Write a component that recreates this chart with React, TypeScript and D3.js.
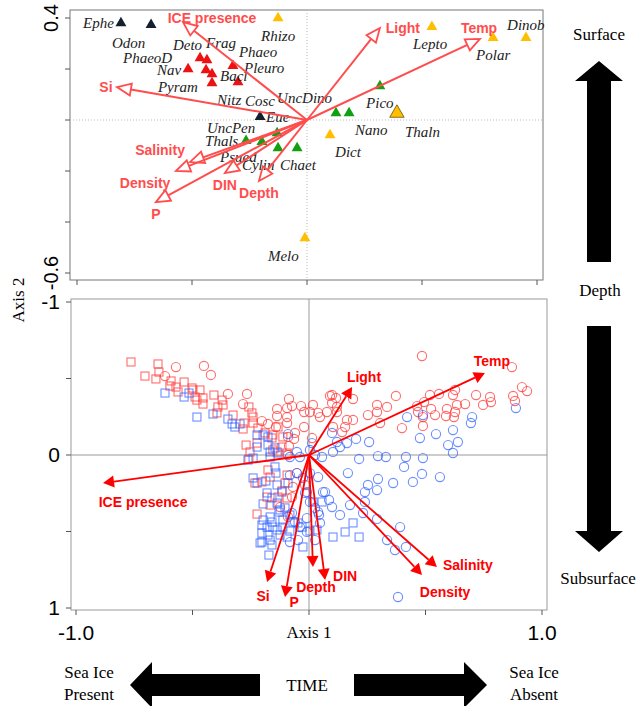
import React from 'react';
import * as d3 from 'd3';

// ---------- top panel: species scores (triangles) ----------
// [name, group, axis1, axis2]
const speciesPts: [string, string, number, number][] = [
  ['Ephe', 'ice', -0.809, 0.380],
  ['Odon', 'ice', -0.678, 0.373],
  ['Eue', 'ice', -0.204, 0.012],
  ['Deto', 'diatom', -0.465, 0.243],
  ['Frag', 'diatom', -0.435, 0.235],
  ['Nav', 'diatom', -0.517, 0.200],
  ['PhaeoD', 'diatom', -0.439, 0.196],
  ['Bacl', 'diatom', -0.413, 0.180],
  ['Pyram', 'diatom', -0.413, 0.145],
  ['Phaeo', 'diatom', -0.322, 0.212],
  ['Pleuro', 'diatom', -0.300, 0.149],
  ['Rhizo', 'warm', -0.126, 0.400],
  ['Lepto', 'warm', 0.543, 0.365],
  ['Polar', 'warm', 0.809, 0.322],
  ['Dinob', 'warm', 0.952, 0.322],
  ['Thaln', 'warm', 0.391, 0.027],
  ['Dict', 'warm', 0.100, -0.059],
  ['Melo', 'warm', -0.009, -0.463],
  ['Pico', 'mixed', 0.317, 0.133],
  ['UncDino', 'mixed', 0.126, 0.027],
  ['Nano', 'mixed', 0.183, 0.027],
  ['UncPen', 'mixed', -0.130, -0.051],
  ['Thals', 'mixed', -0.265, -0.082],
  ['Psued', 'mixed', -0.196, -0.086],
  ['Cylin', 'mixed', -0.126, -0.110],
  ['Chaet', 'mixed', -0.043, -0.110],
];

// label anchors (left edge, middle) in axis units
const speciesLabels: [string, number, number][] = [
  ['Ephe', -0.974, 0.380], ['Odon', -0.848, 0.302], ['PhaeoD', -0.800, 0.243],
  ['Deto', -0.583, 0.294], ['Frag', -0.439, 0.302], ['Phaeo', -0.296, 0.267],
  ['Pleuro', -0.274, 0.204], ['Nav', -0.652, 0.196], ['Bacl', -0.378, 0.173],
  ['Pyram', -0.648, 0.129], ['Nitz', -0.391, 0.078], ['Cosc', -0.270, 0.075],
  ['UncDino', -0.130, 0.086], ['Eue', -0.178, 0.012], ['Rhizo', -0.200, 0.329],
  ['Lepto', 0.461, 0.298], ['Polar', 0.735, 0.255], ['Dinob', 0.870, 0.373],
  ['Pico', 0.257, 0.067], ['Nano', 0.209, -0.039], ['Thaln', 0.426, -0.047],
  ['Dict', 0.122, -0.125], ['Melo', -0.170, -0.533], ['UncPen', -0.435, -0.031],
  ['Thals', -0.443, -0.082], ['Psued', -0.378, -0.145], ['Cylin', -0.283, -0.176],
  ['Chaet', -0.117, -0.176],
];

// environmental vectors, top panel: [name, tipX, tipY, labelX, labelY]
const envTop: [string, number, number, number, number][] = [
  ['ICE presence', -0.539, 0.384, -0.413, 0.400],
  ['Si', -0.826, 0.129, -0.874, 0.129],
  ['Light', 0.317, 0.361, 0.417, 0.361],
  ['Temp', 0.752, 0.318, 0.748, 0.361],
  ['Salinity', -0.509, -0.165, -0.639, -0.118],
  ['Density', -0.570, -0.200, -0.704, -0.247],
  ['P', -0.657, -0.322, -0.657, -0.369],
  ['DIN', -0.357, -0.208, -0.357, -0.255],
  ['Depth', -0.209, -0.239, -0.209, -0.286],
];

// environmental vectors, bottom panel (axis 2 reversed: -1 at top)
const envBottom: [string, number, number, number, number][] = [
  ['Light', 0.185, -0.444, 0.236, -0.510],
  ['Temp', 0.755, -0.536, 0.785, -0.614],
  ['ICE presence', -0.884, 0.183, -0.712, 0.307],
  ['Si', -0.180, 0.830, -0.197, 0.922],
  ['P', -0.103, 0.928, -0.064, 0.961],
  ['Depth', 0.017, 0.732, 0.030, 0.863],
  ['DIN', 0.069, 0.817, 0.155, 0.791],
  ['Salinity', 0.549, 0.732, 0.682, 0.719],
  ['Density', 0.485, 0.784, 0.584, 0.895],
];

// ---------- bottom panel: sample scores ----------
const redSquares: [number, number][] = [
  [-0.764, -0.608], [-0.648, -0.595], [-0.644, -0.542], [-0.704, -0.516], [-0.657, -0.497], [-0.592, -0.484],
  [-0.597, -0.451], [-0.571, -0.444], [-0.536, -0.477], [-0.562, -0.412], [-0.498, -0.425], [-0.468, -0.425],
  [-0.489, -0.379], [-0.455, -0.373], [-0.455, -0.333], [-0.408, -0.392], [-0.481, -0.359], [-0.502, -0.438],
  [-0.373, -0.359], [-0.369, -0.327], [-0.391, -0.314], [-0.395, -0.275], [-0.326, -0.261], [-0.258, -0.314],
  [-0.245, -0.275], [-0.240, -0.248], [-0.279, -0.209], [-0.240, -0.209], [-0.283, -0.170], [-0.219, -0.176],
  [-0.189, -0.144], [-0.133, -0.183], [-0.155, -0.131], [-0.112, -0.118], [-0.159, -0.111], [-0.270, -0.065],
  [-0.223, -0.078], [-0.116, -0.052], [-0.137, -0.020], [-0.094, -0.013], [-0.253, -0.020], [-0.258, 0.026],
  [-0.176, 0.098], [-0.202, 0.176], [-0.167, 0.144], [-0.232, 0.183], [-0.133, 0.275], [-0.094, 0.281],
  [-0.116, 0.235], [-0.223, 0.386], [-0.180, 0.275], [-0.167, 0.327], [-0.103, 0.183], [-0.094, 0.131],
  [-0.155, -0.033],
];
const redCircles: [number, number][] = [
  [-0.618, -0.516], [-0.571, -0.575], [-0.451, -0.582], [-0.421, -0.523], [-0.348, -0.399], [-0.266, -0.399],
  [-0.283, -0.333], [-0.202, -0.222], [-0.176, -0.203], [-0.137, -0.301], [-0.094, -0.307], [-0.086, -0.366],
  [-0.073, -0.320], [-0.137, -0.255], [-0.094, -0.248], [-0.021, -0.281], [0.017, -0.327], [0.039, -0.275],
  [-0.021, -0.183], [-0.060, -0.144], [-0.064, -0.105], [-0.094, -0.209], [-0.142, -0.183], [-0.034, -0.320],
  [0.090, -0.386], [0.116, -0.373], [0.077, -0.281], [0.120, -0.281], [-0.090, -0.118], [-0.086, -0.059],
  [0.485, -0.647], [0.871, -0.575], [0.914, -0.444], [0.936, -0.418], [0.876, -0.386], [0.884, -0.353],
  [0.777, -0.379], [0.781, -0.346], [0.747, -0.327], [0.717, -0.392], [0.670, -0.333], [0.627, -0.425],
  [0.618, -0.392], [0.635, -0.327], [0.592, -0.301], [0.558, -0.399], [0.519, -0.392], [0.494, -0.346],
  [0.464, -0.320], [0.468, -0.281], [0.524, -0.301], [0.541, -0.261], [0.588, -0.255], [0.622, -0.248],
  [0.627, -0.281], [0.489, -0.190], [0.489, -0.248], [0.399, -0.176], [0.373, -0.386], [0.335, -0.314],
  [0.292, -0.327], [0.292, -0.281], [0.253, -0.261], [0.305, -0.209], [0.189, -0.229], [0.163, -0.229],
  [0.155, -0.183], [0.142, -0.150], [0.103, -0.183], [0.099, -0.392], [0.099, -0.340], [0.120, -0.314],
  [0.004, -0.281], [0.047, -0.248], [0.189, -0.366], [0.013, -0.111],
  [-0.069, 0.209], [-0.073, 0.275], [-0.124, 0.340], [-0.017, 0.196], [-0.090, 0.405], [-0.090, 0.000],
  [-0.052, 0.118],
];
const blueSquares: [number, number][] = [
  [-0.618, -0.405], [-0.536, -0.379], [-0.515, -0.405], [-0.481, -0.248], [-0.412, -0.268], [-0.348, -0.235],
  [-0.330, -0.203], [-0.318, -0.183], [-0.296, -0.203], [-0.223, -0.131], [-0.197, -0.131], [-0.176, -0.118],
  [-0.223, -0.052], [-0.176, -0.065], [-0.167, -0.020], [-0.146, -0.046], [-0.133, -0.013], [-0.240, 0.020],
  [-0.262, 0.033], [-0.167, 0.013], [-0.146, 0.078], [-0.142, 0.118], [-0.223, 0.183], [-0.185, 0.170],
  [-0.137, 0.196], [-0.090, 0.183], [-0.180, 0.248], [-0.159, 0.281], [-0.197, 0.320], [-0.137, 0.314],
  [-0.129, 0.373], [-0.103, 0.346], [-0.167, 0.405], [-0.159, 0.438], [-0.197, 0.425], [-0.202, 0.458],
  [-0.180, 0.471], [-0.155, 0.471], [-0.137, 0.490], [-0.112, 0.471], [-0.112, 0.425], [-0.082, 0.392],
  [-0.069, 0.438], [-0.202, 0.510], [-0.176, 0.523], [-0.124, 0.523], [-0.094, 0.536], [-0.159, 0.588],
  [-0.202, 0.569], [-0.082, 0.497], [-0.047, 0.444], [0.056, 0.307], [0.103, 0.536], [0.004, 0.497],
  [-0.167, 0.556], [-0.210, 0.575], [-0.172, 0.654], [-0.026, 0.601], [-0.124, 0.359], [-0.116, 0.242],
  [-0.240, 0.150], [0.017, 0.307], [0.189, 0.444], [0.155, 0.503], [0.034, 0.490], [-0.030, 0.471],
  [0.215, 0.536],
];
const blueCircles: [number, number][] = [
  [-0.090, -0.137], [0.013, -0.078], [-0.052, -0.020], [0.099, -0.144], [0.120, -0.085], [0.103, -0.020],
  [0.056, 0.013], [0.004, -0.033], [-0.039, 0.013], [-0.082, 0.013], [0.888, -0.307], [0.700, -0.248],
  [0.695, -0.209], [0.618, -0.163], [0.639, -0.085], [0.597, -0.065], [0.618, -0.013], [0.545, -0.137],
  [0.476, -0.111], [0.489, -0.261], [0.421, -0.248], [0.489, 0.020], [0.416, 0.013], [0.408, 0.078],
  [0.330, 0.013], [0.296, 0.007], [0.258, -0.085], [0.215, 0.026], [0.202, -0.105], [0.163, -0.078],
  [0.167, 0.118], [0.133, -0.052], [0.485, 0.124], [0.562, 0.144], [0.446, 0.176], [0.361, 0.183],
  [0.296, 0.157], [0.253, 0.196], [0.240, 0.242], [0.292, 0.229], [0.240, 0.307], [0.176, 0.327],
  [0.133, 0.392], [0.232, 0.379], [0.292, 0.418], [0.391, 0.471], [0.060, 0.242], [0.099, 0.340],
  [0.026, 0.000], [0.039, 0.373], [-0.009, 0.412], [0.004, 0.118], [-0.009, 0.242], [0.335, 0.556],
  [0.369, 0.621], [0.416, 0.601], [0.382, 0.928], [-0.052, 0.118], [-0.082, 0.131], [-0.026, 0.150],
  [0.039, 0.144], [0.069, 0.242], [-0.017, 0.248], [0.004, 0.307], [0.026, 0.346], [-0.073, 0.379],
  [-0.060, 0.438], [-0.039, 0.471], [-0.009, 0.503], [-0.082, 0.569], [-0.047, 0.556], [0.086, 0.294],
  [0.043, 0.392], [0.047, 0.444], [0.026, 0.556],
];

const topYTicks = [0.4, 0.2, 0, -0.2, -0.4, -0.6];
const topYLabels = ['0.4', '-0.6'];
const axisTicks = [-1, -0.5, 0, 0.5, 1];
const bottomYLabels = ['-1', '0', '1'];

const SANS = '"Liberation Sans", Arial, sans-serif';
const SERIF = '"Liberation Serif", "Times New Roman", serif';

const groupColor: Record<string, string> = {
  ice: '#14202e',
  diatom: '#ee1111',
  warm: '#ffbf00',
  mixed: '#11a011',
};

function arrowHead(x0: number, y0: number, x1: number, y1: number, len: number, half: number) {
  const a = Math.atan2(y1 - y0, x1 - x0);
  const ux = Math.cos(a), uy = Math.sin(a);
  const bx = x1 - len * ux, by = y1 - len * uy;
  return {
    base: [bx, by],
    pts: `${x1},${y1} ${bx - half * uy},${by + half * ux} ${bx + half * uy},${by - half * ux}`,
  };
}

export default function App() {
  // top panel scales
  const xT = d3.scaleLinear().domain([-1, 1]).range([77, 537]);
  const yT = d3.scaleLinear().domain([-0.6, 0.4]).range([273, 18]);
  // bottom panel scales
  const xB = d3.scaleLinear().domain([-1, 1]).range([76, 542]);
  const yB = d3.scaleLinear().domain([-1, 1]).range([302, 608]);

  const tri = d3.symbol().type(d3.symbolTriangle).size(52)()!;
  const triBig = d3.symbol().type(d3.symbolTriangle).size(90)()!;

  const topRed = '#ff4d4d';
  const red = '#ff0000';
  const ptRed = 'rgba(255,60,60,0.75)';
  const ptBlue = 'rgba(45,95,255,0.7)';

  const oT = [xT(0), yT(0)];
  const oB = [xB(0), yB(0)];

  return (
    <svg width={644} height={706} style={{ position: 'absolute', left: 0, top: 0, background: '#fff' }}>
      {/* ======= TOP PANEL ======= */}
      <rect x={70} y={10} width={473} height={270} fill="none" stroke="#777" strokeWidth={1} />
      <line x1={xT(0)} x2={xT(0)} y1={10} y2={280} stroke="#bbb" strokeDasharray="1,2" />
      <line x1={70} x2={543} y1={yT(0)} y2={yT(0)} stroke="#bbb" strokeDasharray="1,2" />
      {topYTicks.map(t => (
        <line key={'ty' + t} x1={65} x2={70} y1={yT(t)} y2={yT(t)} stroke="#555" />
      ))}
      {axisTicks.map(t => (
        <line key={'tx' + t} x1={xT(t)} x2={xT(t)} y1={280} y2={285} stroke="#555" />
      ))}
      {topYLabels.map(l => (
        <text key={l} x={58} y={yT(+l)} fontFamily={SANS} fontSize={20} textAnchor="middle"
          transform={`rotate(-90, 58, ${yT(+l)})`}>{l}</text>
      ))}

      {/* species triangles */}
      {speciesPts.map(([n, g, x, y]) => (
        <path key={'sp' + n} d={n === 'Thaln' ? triBig : tri}
          transform={`translate(${xT(x)},${yT(y)})`}
          fill={groupColor[g]} stroke={n === 'Thaln' ? '#6a5200' : 'none'} strokeWidth={0.8} />
      ))}
      {speciesLabels.map(([n, x, y]) => (
        <text key={'sl' + n} x={xT(x)} y={yT(y)} dy="0.35em" fontFamily={SERIF} fontStyle="italic"
          fontSize={15} fill="#222">{n}</text>
      ))}

      {/* top env vectors, open heads */}
      {envTop.map(([n, tx, ty, lx, ly]) => {
        const x1 = xT(tx), y1 = yT(ty);
        const h = arrowHead(oT[0], oT[1], x1, y1, 14, 6);
        return (
          <g key={'et' + n}>
            <line x1={oT[0]} y1={oT[1]} x2={h.base[0]} y2={h.base[1]} stroke={topRed} strokeWidth={2} />
            <polygon points={h.pts} fill="none" stroke={topRed} strokeWidth={1.8} strokeLinejoin="miter" />
            <text x={xT(lx)} y={yT(ly)} dy="0.35em" textAnchor="middle" fontFamily={SANS}
              fontWeight="bold" fontSize={14} fill={topRed}>{n}</text>
          </g>
        );
      })}

      {/* ======= BOTTOM PANEL ======= */}
      <rect x={71} y={299} width={476} height={311} fill="none" stroke="#999" strokeWidth={1} />
      <line x1={xB(0)} x2={xB(0)} y1={299} y2={610} stroke="#999" />
      <line x1={71} x2={547} y1={yB(0)} y2={yB(0)} stroke="#999" />
      {axisTicks.map(t => (
        <line key={'by' + t} x1={66} x2={71} y1={yB(t)} y2={yB(t)} stroke="#555" />
      ))}
      {axisTicks.map(t => (
        <line key={'bx' + t} x1={xB(t)} x2={xB(t)} y1={610} y2={615} stroke="#555" />
      ))}
      {bottomYLabels.map(l => (
        <text key={'bl' + l} x={60} y={yB(+l)} dy="0.35em" textAnchor="end" fontFamily={SANS}
          fontSize={21}>{l}</text>
      ))}

      {redSquares.map(([x, y], i) => (
        <rect key={'rs' + i} x={xB(x) - 4} y={yB(y) - 4} width={8} height={8} fill="none" stroke={ptRed} strokeWidth={1.1} />
      ))}
      {redCircles.map(([x, y], i) => (
        <circle key={'rc' + i} cx={xB(x)} cy={yB(y)} r={4.6} fill="none" stroke={ptRed} strokeWidth={1.1} />
      ))}
      {blueSquares.map(([x, y], i) => (
        <rect key={'bs' + i} x={xB(x) - 4} y={yB(y) - 4} width={8} height={8} fill="none" stroke={ptBlue} strokeWidth={1.1} />
      ))}
      {blueCircles.map(([x, y], i) => (
        <circle key={'bc' + i} cx={xB(x)} cy={yB(y)} r={4.6} fill="none" stroke={ptBlue} strokeWidth={1.1} />
      ))}

      {envBottom.map(([n, tx, ty, lx, ly]) => {
        const x1 = xB(tx), y1 = yB(ty);
        const h = arrowHead(oB[0], oB[1], x1, y1, 11, 6);
        return (
          <g key={'eb' + n}>
            <line x1={oB[0]} y1={oB[1]} x2={h.base[0]} y2={h.base[1]} stroke={red} strokeWidth={1.8} />
            <polygon points={h.pts} fill={red} />
            <text x={xB(lx)} y={yB(ly)} dy="0.35em" textAnchor="middle" fontFamily={SANS}
              fontWeight="bold" fontSize={14} fill={red}>{n}</text>
          </g>
        );
      })}

      {/* axis titles */}
      <text x={xB(-1)} y={640} textAnchor="middle" fontFamily={SANS} fontSize={21}>-1.0</text>
      <text x={xB(1)} y={640} textAnchor="middle" fontFamily={SANS} fontSize={21}>1.0</text>
      <text x={xB(0)} y={638} textAnchor="middle" fontFamily={SERIF} fontSize={17}>Axis 1</text>
      <text x={24} y={300} textAnchor="middle" fontFamily={SERIF} fontSize={17}
        transform="rotate(-90, 24, 300)">Axis 2</text>

      {/* depth annotation */}
      <text x={599} y={40} textAnchor="middle" fontFamily={SERIF} fontSize={17}>Surface</text>
      <polygon points="599,61 623,81 611,81 611,262 587,262 587,81 575,81" fill="#000" />
      <text x={600} y={296} textAnchor="middle" fontFamily={SERIF} fontSize={17}>Depth</text>
      <polygon points="587,326 611,326 611,531 623,531 599,552 575,531 587,531" fill="#000" />
      <text x={598} y={584} textAnchor="middle" fontFamily={SERIF} fontSize={17}>Subsurface</text>

      {/* time annotation */}
      <text x={89} y={678} textAnchor="middle" fontFamily={SERIF} fontSize={17}>Sea Ice</text>
      <text x={89} y={700} textAnchor="middle" fontFamily={SERIF} fontSize={17}>Present</text>
      <polygon points="130,685 152,662 152,674 260,674 260,696 152,696 152,708" fill="#000" />
      <text x={307} y={691} textAnchor="middle" fontFamily={SERIF} fontSize={17}>TIME</text>
      <polygon points="354,674 464,674 464,662 487,685 464,708 464,696 354,696" fill="#000" />
      <text x={534} y={678} textAnchor="middle" fontFamily={SERIF} fontSize={17}>Sea Ice</text>
      <text x={534} y={700} textAnchor="middle" fontFamily={SERIF} fontSize={17}>Absent</text>
    </svg>
  );
}
